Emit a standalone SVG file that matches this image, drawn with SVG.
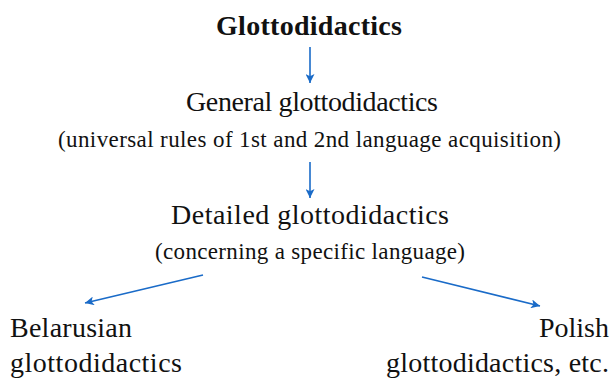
<svg xmlns="http://www.w3.org/2000/svg" width="613" height="380" viewBox="0 0 613 380">
<style>
text{font-family:"Liberation Serif","DejaVu Serif",serif;fill:#111;}
.t{font-size:28px;}
.s{font-size:23px;}
.c{stroke:#1a6bc8;stroke-width:1.6;fill:none;marker-end:url(#ah);}
</style>
<defs>
<marker id="ah" viewBox="0 0 10 10" refX="10" refY="5" markerWidth="10" markerHeight="9" markerUnits="userSpaceOnUse" orient="auto">
<path d="M0,0 L10,5 L0,10 L2.5,5 Z" fill="#1a6bc8"/>
</marker>
</defs>
<rect width="613" height="380" fill="#fff"/>
<g id="connectors">
<line class="c" x1="310" y1="47" x2="310" y2="83"/>
<line class="c" x1="310" y1="162" x2="310" y2="198"/>
<line class="c" x1="203" y1="275" x2="85" y2="303"/>
<line class="c" x1="422" y1="277" x2="540" y2="306"/>
</g>
<g id="root"><text x="309" y="35" text-anchor="middle" textLength="186" lengthAdjust="spacing" style="font-size:28px;font-weight:bold">Glottodidactics</text></g>
<g id="general">
<text class="t" x="312" y="111" text-anchor="middle" textLength="252" lengthAdjust="spacing">General glottodidactics</text>
<text class="s" x="309.5" y="147" text-anchor="middle" textLength="503" lengthAdjust="spacing">(universal rules of 1st and 2nd language acquisition)</text>
</g>
<g id="detailed">
<text class="t" x="310" y="224" text-anchor="middle" textLength="278" lengthAdjust="spacing">Detailed glottodidactics</text>
<text class="s" x="310" y="259" text-anchor="middle" textLength="310" lengthAdjust="spacing">(concerning a specific language)</text>
</g>
<g id="belarusian">
<text class="t" x="10" y="337" textLength="122" lengthAdjust="spacing">Belarusian</text>
<text class="t" x="10" y="372" textLength="172" lengthAdjust="spacing">glottodidactics</text>
</g>
<g id="polish">
<text class="t" x="609" y="337" text-anchor="end">Polish</text>
<text class="t" x="609" y="372" text-anchor="end" textLength="223" lengthAdjust="spacing">glottodidactics, etc.</text>
</g>
</svg>
